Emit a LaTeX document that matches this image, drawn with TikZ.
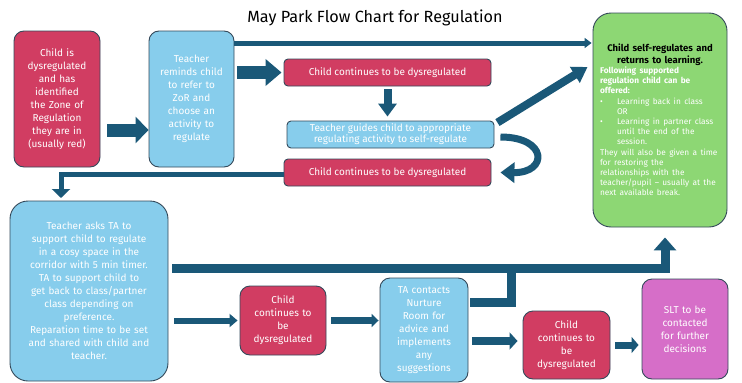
\documentclass[tikz,border=0pt]{standalone}
\usepackage{fontspec}
\setmainfont{Fira Sans}
\usetikzlibrary{arrows.meta}
\definecolor{zonered}{HTML}{D13D62}
\definecolor{zoneblue}{HTML}{87CDEC}
\definecolor{zonegreen}{HTML}{8DD774}
\definecolor{zonepink}{HTML}{D66EC8}
\definecolor{edgegray}{HTML}{34495A}
\definecolor{flowblue}{HTML}{1A5878}
\tikzset{box/.style={draw=edgegray, line width=0.9pt, rounded corners=10pt, align=center, text=white, inner sep=2pt, font=\fontsize{10}{13}\selectfont},
  redbox/.style={box, fill=zonered}, bluebox/.style={box, fill=zoneblue},
  flow/.style={draw=flowblue, line width=#1, line join=miter}}

\begin{document}
\begin{tikzpicture}[x=1pt, y=-1pt]
  \useasboundingbox (0,0) rectangle (742,383);
  \node [font=\fontsize{16.2}{19}\selectfont] (title) at (375,18) {May Park Flow Chart for Regulation};

  \node [redbox, minimum width=86pt, minimum height=136pt, text width=80pt] (a) at (57,99)
    {Child is\\dysregulated\\and has\\identified\\the Zone of\\Regulation\\they are in\\(usually red)};
  \node [bluebox, minimum width=85pt, minimum height=136pt, text width=80pt] (b) at (191.5,99)
    {Teacher\\reminds child\\to refer to\\ZoR and\\choose an\\activity to\\regulate};
  \node [redbox, rounded corners=4pt, minimum width=207pt, minimum height=27pt] (c) at (387.5,72.5)
    {Child continues to be dysregulated};
  \node [bluebox, rounded corners=4pt, minimum width=207pt, minimum height=27pt, font=\fontsize{10}{11}\selectfont] (d) at (390.5,134.5)
    {Teacher guides child to appropriate\\regulating activity to self-regulate};
  \node [redbox, rounded corners=4pt, minimum width=207pt, minimum height=27pt] (e) at (387.5,172.5)
    {Child continues to be dysregulated};
  \node [box, fill=zonegreen, rounded corners=18pt, minimum width=134pt, minimum height=214pt, text width=120pt, align=left] (f) at (660,120)
    {{\centering\color{black}\bfseries\fontsize{9.5}{11.5}\selectfont Child self-regulates and\\returns to learning.\par}
     {\fontsize{8.3}{10.2}\selectfont\raggedright
      {\bfseries Following supported\\regulation child can be\\offered:}\\
      \makebox[17pt][l]{\textbullet}Learning back in class\\
      \hspace*{17pt}OR\\
      \makebox[17pt][l]{\textbullet}Learning in partner class\\
      \hspace*{17pt}until the end of the\\
      \hspace*{17pt}session.\\
      They will also be given a time\\for restoring the\\relationships with the\\teacher/pupil -- usually at the\\next available break.\par}};
  \node [bluebox, rounded corners=18pt, minimum width=158pt, minimum height=180pt, text width=150pt] (g) at (89,291)
    {Teacher asks TA to\\support child to regulate\\in a cosy space in the\\corridor with 5 min timer.\\TA to support child to\\get back to class/partner\\class depending on\\preference.\\Reparation time to be set\\and shared with child and\\teacher.};
  \node [redbox, minimum width=86pt, minimum height=69pt, text width=80pt] (h) at (283,320.5)
    {Child\\continues to\\be\\dysregulated};
  \node [bluebox, minimum width=88pt, minimum height=104pt, text width=80pt] (i) at (424,330)
    {TA contacts\\Nurture\\Room for\\advice and\\implements\\any\\suggestions};
  \node [redbox, minimum width=87pt, minimum height=68pt, text width=80pt] (j) at (566.5,345)
    {Child\\continues to\\be\\dysregulated};
  \node [box, fill=zonepink, minimum width=86pt, minimum height=100pt, text width=80pt] (k) at (685,329)
    {SLT to be\\contacted\\for further\\decisions};

  \coordinate (bar) at (0,268);
  \coordinate (up) at (665,0);
  \coordinate (join) at (511,268);

  \draw [flow=13pt, -{Triangle[width=26pt,length=13pt]}] ([xshift=7pt,yshift=-31pt]a.east) -- ([yshift=-31pt]a.east -| b.west);
  \draw [flow=13pt, -{Triangle[width=26pt,length=16pt]}] ([xshift=3pt]b.east |- c.west) -- ([xshift=-2pt]c.west);
  \draw [flow=8pt, -{Triangle[width=18pt,length=13pt]}] ([yshift=-3pt]c.south) -- ([yshift=4pt]c.south |- d.north);
  \draw [flow=5pt, -{Triangle[width=10pt,length=7pt]}] (b.east |- 0,43) -- ([xshift=-1pt]f.west |- 0,43);
  \draw [flow=8pt, -{Triangle[width=18pt,length=15pt]}] ([xshift=3pt,yshift=-2pt]d.north east) -- ([xshift=-5pt,yshift=53pt]f.west);
  \draw [flow=7pt, -{Triangle[width=20pt,length=14pt]}] ([xshift=6pt,yshift=-2.5pt]d.east) .. controls (548,137) and (548,173) .. ([xshift=9pt]e.east);
  \draw [flow=5pt, -{Triangle[width=18pt,length=9pt]}] ([yshift=-1.5pt]e.west) -- (61,174) -- (61,198);
  \draw [flow=9pt, -{Triangle[width=22pt,length=13pt]}] ([xshift=4pt]g.east |- bar) -- (up |- bar) -- ([yshift=-10pt]up |- f.south);
  \draw [flow=9pt] ([xshift=2pt]i.east |- 0,302) -- (join |- 0,302) -- ([yshift=4.5pt]join);
  \draw [flow=6pt, -{Triangle[width=13pt,length=8pt]}] ([xshift=6pt]g.east |- h.west) -- ([xshift=-2pt]h.west);
  \draw [flow=7pt, -{Triangle[width=13pt,length=7pt]}] ([xshift=5pt]h.east) -- ([xshift=-1pt]h.east -| i.west);
  \draw [flow=8pt, -{Triangle[width=17pt,length=8pt]}] ([xshift=4pt]i.east |- 0,341) -- ([xshift=-5pt]j.west |- 0,341);
  \draw [flow=7pt, -{Triangle[width=16pt,length=7pt]}] ([xshift=5pt]j.east) -- ([xshift=-3pt]j.east -| k.west);
\end{tikzpicture}
\end{document}
